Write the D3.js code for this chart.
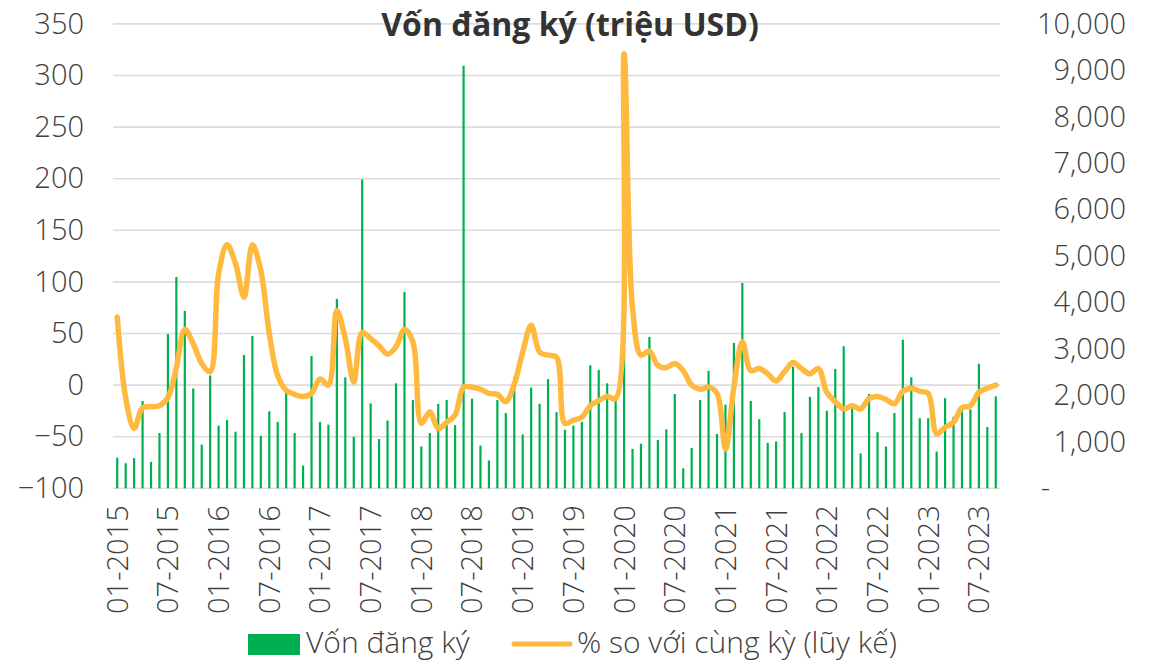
<!DOCTYPE html>
<html>
<head>
<meta charset="utf-8">
<script src="https://cdn.jsdelivr.net/npm/d3@7"></script>
<style>
  html, body { margin: 0; padding: 0; background: #fff; }
  svg { display: block; font-family: "Open Sans", "Noto Sans", sans-serif; }
</style>
</head>
<body>
<svg id="chart" width="1153" height="662"></svg>
<script>
// Monthly categories, 01-2015 .. 09-2023
const months = [
  "01-2015","02-2015","03-2015","04-2015","05-2015","06-2015","07-2015","08-2015","09-2015","10-2015","11-2015","12-2015",
  "01-2016","02-2016","03-2016","04-2016","05-2016","06-2016","07-2016","08-2016","09-2016","10-2016","11-2016","12-2016",
  "01-2017","02-2017","03-2017","04-2017","05-2017","06-2017","07-2017","08-2017","09-2017","10-2017","11-2017","12-2017",
  "01-2018","02-2018","03-2018","04-2018","05-2018","06-2018","07-2018","08-2018","09-2018","10-2018","11-2018","12-2018",
  "01-2019","02-2019","03-2019","04-2019","05-2019","06-2019","07-2019","08-2019","09-2019","10-2019","11-2019","12-2019",
  "01-2020","02-2020","03-2020","04-2020","05-2020","06-2020","07-2020","08-2020","09-2020","10-2020","11-2020","12-2020",
  "01-2021","02-2021","03-2021","04-2021","05-2021","06-2021","07-2021","08-2021","09-2021","10-2021","11-2021","12-2021",
  "01-2022","02-2022","03-2022","04-2022","05-2022","06-2022","07-2022","08-2022","09-2022","10-2022","11-2022","12-2022",
  "01-2023","02-2023","03-2023","04-2023","05-2023","06-2023","07-2023","08-2023","09-2023"
];

// Registered capital per month (million USD) - right axis
const registeredCapital = [
  660, 540, 650, 1880, 570, 1190, 3320, 4550, 3820, 2150, 940, 2430,
  1350, 1470, 1220, 2870, 3280, 1130, 1660, 1430, 2060, 1190, 490, 2850,
  1430, 1370, 4080, 2390, 1110, 6650, 1830, 1060, 1460, 2260, 4230, 1900,
  900, 1190, 1820, 1900, 1360, 9100, 1930, 920, 600, 1900, 1620, 2390,
  1160, 2170, 1820, 2350, 1640, 1260, 1350, 1430, 2650, 2550, 2260, 1900,
  4800, 850, 960, 3260, 1040, 1270, 2030, 430, 870, 1900, 2530, 1170,
  1800, 3130, 4420, 1880, 1490, 980, 1010, 1640, 2620, 1190, 1970, 2180,
  1670, 2570, 3060, 1720, 750, 2030, 1210, 900, 1620, 3200, 2390, 1510,
  1510, 790, 1940, 1540, 1690, 1700, 2680, 1320, 1980
];

// Year-on-year change, cumulative (%) - left axis
const yoyChange = [
  66, -12, -42, -22, -21, -20, -12, 17, 54, 40, 21, 13,
  108, 136, 118, 85, 136, 111, 50, 9, -5, -9, -11, -8,
  6, 0, 72, 45, 3, 51, 45, 38, 30, 37, 54, 42,
  -37, -26, -42, -36, -29, -2, -2, -4, -8, -9, -16, 1,
  32, 58, 32, 29, 27, -37, -34, -31, -20, -15, -11, -13,
  321, 75, 29, 33, 19, 17, 21, 14, 0, -4, -2, -8,
  -62, -2, 42, 14, 16, 11, 4, 13, 22, 16, 11, 16,
  -7, -16, -23, -20, -23, -13, -11, -14, -18, -6, -3, -6,
  -8, -47, -41, -36, -22, -20, -7, -3, 0
];

// Axis ticks
const leftTicks = [-100, -50, 0, 50, 100, 150, 200, 250, 300, 350];
const rightTicks = [0, 1000, 2000, 3000, 4000, 5000, 6000, 7000, 8000, 9000, 10000];
const xTickLabels = ["01-2015","07-2015","01-2016","07-2016","01-2017","07-2017","01-2018","07-2018","01-2019",
  "07-2019","01-2020","07-2020","01-2021","07-2021","01-2022","07-2022","01-2023","07-2023"];

const title = "Vốn đăng ký (triệu USD)";
const legendBars = "Vốn đăng ký";
const legendLine = "% so với cùng kỳ (lũy kế)";

const colBar = "#00B050";
const colLine = "#FFB93E";
const colText = "#404040";

const svg = d3.select("#chart");
const plot = { left: 113, right: 1000, top: 23.9, bottom: 488.3 };

const x = d3.scaleBand().domain(months).range([plot.left, plot.right]).padding(0);
const yL = d3.scaleLinear().domain([-100, 350]).range([plot.bottom, plot.top]);
const yR = d3.scaleLinear().domain([0, 10000]).range([plot.bottom, plot.top]);
const cx = m => x(m) + x.bandwidth() / 2;

// Gridlines (left axis)
svg.append("g").selectAll("line").data(leftTicks).join("line")
  .attr("x1", plot.left).attr("x2", plot.right)
  .attr("y1", d => yL(d)).attr("y2", d => yL(d))
  .attr("stroke", "#dcdcdc").attr("stroke-width", 1.6);

// Left axis labels
const axL = svg.append("g").attr("transform", `translate(84,0)`)
  .call(d3.axisLeft(yL).tickValues(leftTicks).tickSize(0).tickPadding(0).tickFormat(d3.format("d")));
axL.select(".domain").remove();
axL.selectAll("text").attr("font-size", 29).attr("fill", colText)
  .attr("font-family", "'Open Sans', sans-serif").attr("font-weight", 300);

// Right axis labels
const axR = svg.append("g").attr("transform", `translate(1126,0)`)
  .call(d3.axisLeft(yR).tickValues(rightTicks).tickSize(0).tickPadding(0)
    .tickFormat(d => d === 0 ? "-" : d3.format(",")(d)));
axR.select(".domain").remove();
axR.selectAll("text").attr("font-size", 29).attr("fill", colText)
  .attr("font-family", "'Open Sans', sans-serif").attr("font-weight", 300);
axR.selectAll(".tick text").filter(d => d === 0).attr("x", -76);

// Bars
svg.append("g").selectAll("rect").data(months).join("rect")
  .attr("x", m => cx(m) - 1.1)
  .attr("width", 2.2)
  .attr("y", (m, i) => yR(registeredCapital[i]))
  .attr("height", (m, i) => yR(0) - yR(registeredCapital[i]))
  .attr("fill", colBar);

// Smoothed YoY line
const line = d3.line()
  .x((d, i) => cx(months[i]))
  .y(d => yL(d))
  .curve(d3.curveCatmullRom.alpha(0.5));
svg.append("path").datum(yoyChange)
  .attr("d", line)
  .attr("fill", "none")
  .attr("stroke", colLine)
  .attr("stroke-width", 5.5)
  .attr("stroke-linejoin", "round")
  .attr("stroke-linecap", "round");

// X axis labels (rotated)
const axX = svg.append("g").attr("transform", `translate(0,${plot.bottom})`)
  .call(d3.axisBottom(x).tickValues(xTickLabels).tickSize(0).tickPadding(0));
axX.select(".domain").remove();
axX.selectAll("text")
  .attr("font-size", 29).attr("fill", colText)
  .attr("font-family", "'Open Sans', sans-serif").attr("font-weight", 300)
  .attr("text-anchor", "end")
  .attr("transform", "rotate(-90)")
  .attr("x", -17).attr("y", 0).attr("dy", "0.36em");

// Title
svg.append("text").attr("x", 570).attr("y", 36)
  .attr("text-anchor", "middle")
  .attr("font-size", 32).attr("font-weight", 700).attr("fill", "#333")
  .text(title);

// Legend
const lg = svg.append("g");
lg.append("rect").attr("x", 248).attr("y", 634).attr("width", 52).attr("height", 21).attr("fill", colBar);
lg.append("text").attr("x", 306).attr("y", 653).attr("font-size", 30).attr("font-weight", 300)
  .attr("fill", colText).text(legendBars);
lg.append("line").attr("x1", 514).attr("x2", 570).attr("y1", 644).attr("y2", 644)
  .attr("stroke", colLine).attr("stroke-width", 5).attr("stroke-linecap", "round");
lg.append("text").attr("x", 577).attr("y", 653).attr("font-size", 30).attr("font-weight", 300)
  .attr("fill", colText).text(legendLine);
</script>
</body>
</html>
